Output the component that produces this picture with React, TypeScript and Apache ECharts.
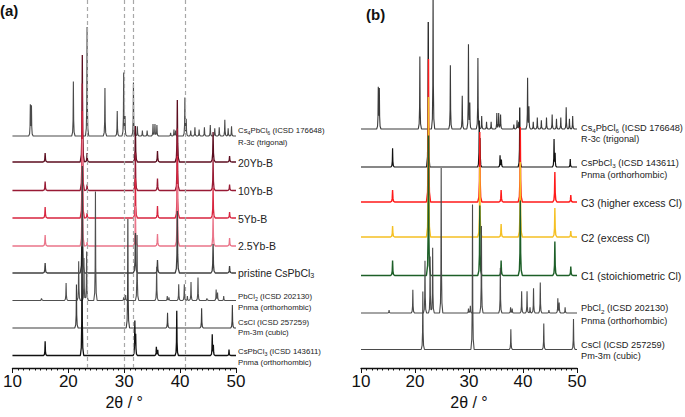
import React, { useEffect, useRef } from "react";
import * as echarts from "echarts";

// ---------- data (2θ in degrees, intensities) ----------
// Reference patterns: [2θ, relative intensity (strongest = 100)]
const cs4PbCl6Peaks: [number, number][] = [
  [13.2, 28], [13.4, 27], [20.9, 50], [23.35, 100], [26.55, 44], [28.75, 23],
  [29.9, 58], [30.15, 17], [31.65, 49], [32.35, 9], [33.25, 5], [34.1, 5],
  [35.15, 11], [35.5, 11], [35.85, 10], [38.3, 3], [38.9, 6], [39.2, 5],
  [40.85, 35], [41.1, 15], [41.9, 5], [42.65, 8], [43.4, 6], [44.35, 8],
  [45.4, 10], [46.2, 7], [47.0, 8], [48.0, 15], [48.6, 7], [49.2, 9],
];
const csPbCl3Peaks: [number, number][] = [
  [15.85, 13], [22.45, 100], [31.9, 31], [32.05, 18], [35.75, 8], [36.0, 5],
  [39.4, 41], [45.75, 19], [45.95, 9], [48.75, 5.5],
];
const pbCl2Peaks: [number, number][] = [
  [15.2, 2], [19.6, 16], [21.85, 36], [22.8, 39], [23.27, 45], [24.85, 100],
  [29.9, 3], [30.25, 5], [32.3, 60], [35.8, 31], [37.7, 4], [38.0, 3],
  [39.75, 15], [40.75, 15], [41.3, 4], [41.95, 17], [43.2, 21], [44.8, 2],
  [46.45, 10], [46.7, 7], [47.8, 4],
];
const csClPeaks: [number, number][] = [
  [21.45, 40], [30.65, 100], [37.75, 14], [43.85, 18], [49.35, 21],
];

// Measured samples: common reflection positions and per-sample heights
const samplePositions = [15.85, 22.5, 23.35, 32.0, 35.95, 39.5, 45.9, 48.85];
const yb20 = [9, 107, 9, 36, 11, 62, 30, 6];
const yb10 = [9, 107, 6, 38, 12, 62, 31, 6];
const yb5 = [11, 107, 5, 40, 12, 62, 30, 6];
const yb2_5 = [11, 107, 4, 40, 12, 62, 31, 8];
const pristine = [10, 107, 0, 40, 13, 62, 29, 7];
const c3 = [12, 143, 0, 70, 12, 75, 30, 7];
const c2 = [11, 140, 0, 70, 13, 75, 29, 6];
const c1 = [15, 140, 0, 70, 15, 75, 34, 9];

// vertical offsets of the stacked patterns
const offsetsA = [232, 206, 177.5, 150, 122, 95, 67.5, 40, 12.5];
const offsetsB = [239, 201, 166, 131, 92.5, 55, 18.5];
const scaleA = 1.09;
const scaleB = 1.45;

// dashed guide lines in panel (a)
const guideLines = [23.4, 30.05, 31.7, 40.9];

const xTicks = { min: 10, max: 50, interval: 10 };

// ---------- helpers ----------
const PROFILE_X = [-1, -0.45, -0.18, 0, 0.18, 0.45, 1];
const PROFILE_Y = [0, 0.07, 0.3, 1, 0.3, 0.07, 0];

function profileAt(d: number) {
  for (let i = 0; i < PROFILE_X.length - 1; i++) {
    if (d >= PROFILE_X[i] && d <= PROFILE_X[i + 1]) {
      const t = (d - PROFILE_X[i]) / (PROFILE_X[i + 1] - PROFILE_X[i]);
      return PROFILE_Y[i] + t * (PROFILE_Y[i + 1] - PROFILE_Y[i]);
    }
  }
  return 0;
}

function trace(peaks: [number, number][], scale: number, offset: number, hw: number) {
  const xs = new Set<number>([10, 50]);
  peaks.forEach(([p]) =>
    PROFILE_X.forEach((f) => {
      const x = +(p + f * hw).toFixed(4);
      if (x >= 10 && x <= 50) xs.add(x);
    })
  );
  const sorted = [...xs].sort((a, b) => a - b);
  return sorted.map((x) => {
    let y = 0;
    peaks.forEach(([p, h]) => {
      const d = (x - p) / hw;
      if (Math.abs(d) < 1) y += h * scale * profileAt(d);
    });
    return [x, offset + y];
  });
}

const sample = (heights: number[]) =>
  samplePositions.map((p, i) => [p, heights[i]] as [number, number]);

const FONT = "'Liberation Sans', Arial, Helvetica, sans-serif";

function label(x: number, y: number, text: string, size: number) {
  return {
    type: "text",
    x,
    y,
    silent: true,
    style: {
      text,
      fill: "#222",
      fontSize: size,
      fontFamily: FONT,
      verticalAlign: "middle",
      align: "left",
      lineHeight: size * 1.4,
      rich: {
        s: {
          fontSize: size * 0.68,
          fontFamily: FONT,
          fill: "#222",
          verticalAlign: "bottom",
          lineHeight: size * 0.7,
        },
      },
    },
  };
}

export default function App() {
  const ref = useRef<HTMLDivElement>(null);
  useEffect(() => {
    if (!ref.current) return;
    const chart = echarts.init(ref.current, null, { renderer: "svg" });

    const xAxisBase = (gridIndex: number) => ({
      gridIndex,
      type: "value",
      ...xTicks,
      axisLine: { lineStyle: { color: "#111", width: 1.3 } },
      axisTick: { length: 5, lineStyle: { color: "#111", width: 1 } },
      minorTick: { show: true, splitNumber: 10, length: 2.5, lineStyle: { color: "#111", width: 1 } },
      splitLine: { show: false },
      axisLabel: { fontSize: 17, color: "#111", margin: 5, fontFamily: FONT },
      name: "2θ / °",
      nameLocation: "middle",
      nameGap: 26,
      nameTextStyle: { fontSize: 16, color: "#111", fontFamily: FONT },
    });
    const yAxisBase = (gridIndex: number) => ({
      gridIndex, type: "value", min: 0, max: 368, show: false,
    });

    const line = (grid: number, data: number[][], color: string, width = 1.1, extra: any = {}) => ({
      type: "line",
      xAxisIndex: grid,
      yAxisIndex: grid,
      data,
      symbol: "none",
      showSymbol: false,
      silent: true,
      clip: true,
      lineStyle: { color, width },
      ...extra,
    });

    const series: any[] = [
      // panel (a)
      line(0, trace(cs4PbCl6Peaks, scaleA, offsetsA[0], 0.3), "#4a4a4a", 1.1, {
        markLine: {
          silent: true,
          symbol: ["none", "none"],
          label: { show: false },
          lineStyle: { color: "#a8a8a8", type: [4, 3], width: 1.2 },
          data: guideLines.map((v) => ({ xAxis: v })),
        },
      }),
      line(0, trace(sample(yb20), 1, offsetsA[1], 0.38), "#5c0d1f", 1.3),
      line(0, trace(sample(yb10), 1, offsetsA[2], 0.38), "#981a34", 1.3),
      line(0, trace(sample(yb5), 1, offsetsA[3], 0.38), "#d8253f", 1.3),
      line(0, trace(sample(yb2_5), 1, offsetsA[4], 0.38), "#ea7489", 1.3),
      line(0, trace(sample(pristine), 1, offsetsA[5], 0.38), "#404040", 1.3),
      line(0, trace(pbCl2Peaks, scaleA, offsetsA[6], 0.3), "#505050"),
      line(0, trace(csClPeaks, scaleA, offsetsA[7], 0.3), "#3c3c3c"),
      line(0, trace(csPbCl3Peaks, scaleA, offsetsA[8], 0.3), "#111111", 1.3),
      // panel (b)
      line(1, trace(cs4PbCl6Peaks, scaleB, offsetsB[0], 0.3), "#3a3a3a"),
      line(1, trace(csPbCl3Peaks, scaleB, offsetsB[1], 0.3), "#111111", 1.2),
      line(1, trace(sample(c3), 1, offsetsB[2], 0.38), "#ff1a1a", 1.4),
      line(1, trace(sample(c2), 1, offsetsB[3], 0.38), "#f5c023", 1.4),
      line(1, trace(sample(c1), 1, offsetsB[4], 0.38), "#1d5f28", 1.4),
      line(1, trace(pbCl2Peaks, scaleB, offsetsB[5], 0.3), "#4a4a4a"),
      line(1, trace(csClPeaks, scaleB, offsetsB[6], 0.3), "#4a4a4a"),
    ];

    const la = 238;
    const lb = 581;
    const graphic: any[] = [
      {
        type: "text", x: 0, y: 3, silent: true,
        style: { text: "(a)", fontSize: 15, fontWeight: "bold", fontFamily: FONT, fill: "#111" },
      },
      {
        type: "text", x: 366, y: 7, silent: true,
        style: { text: "(b)", fontSize: 15, fontWeight: "bold", fontFamily: FONT, fill: "#111" },
      },
      label(la, 130, "Cs{s|4}PbCl{s|6} (ICSD 176648)", 7.8),
      label(la, 142, "R-3c (trigonal)", 7.8),
      label(la, 163, "20Yb-B", 10.5),
      label(la, 191, "10Yb-B", 10.5),
      label(la, 218.5, "5Yb-B", 10.5),
      label(la, 246, "2.5Yb-B", 10.5),
      label(la, 272.5, "pristine CsPbCl{s|3}", 10.5),
      label(la, 296, "PbCl{s|2} (ICSD 202130)", 7.8),
      label(la, 307, "Pnma (orthorhombic)", 7.8),
      label(la, 322.5, "CsCl (ICSD 257259)", 7.8),
      label(la, 332.5, "Pm-3m (cubic)", 7.8),
      label(la, 351, "CsPbCl{s|3} (ICSD 143611)", 7.8),
      label(la, 362, "Pnma (orthorhombic)", 7.8),

      label(lb, 127.5, "Cs{s|4}PbCl{s|6} (ICSD 176648)", 9.2),
      label(lb, 139, "R-3c (trigonal)", 9.2),
      label(lb, 162.5, "CsPbCl{s|3} (ICSD 143611)", 9.2),
      label(lb, 175, "Pnma (orthorhombic)", 9.2),
      label(lb, 203, "C3 (higher excess Cl)", 10.5),
      label(lb, 238, "C2 (excess Cl)", 10.5),
      label(lb, 276, "C1 (stoichiometric Cl)", 10.5),
      label(lb, 308, "PbCl{s|2} (ICSD 202130)", 9.2),
      label(lb, 320.5, "Pnma (orthorhombic)", 9.2),
      label(lb, 344.5, "CsCl (ICSD 257259)", 9.2),
      label(lb, 356, "Pm-3m (cubic)", 9.2),
    ];

    chart.setOption({
      animation: false,
      backgroundColor: "#ffffff",
      textStyle: { fontFamily: FONT },
      grid: [
        { left: 10, width: 226, top: 0, height: 368, containLabel: false },
        { left: 361, width: 216, top: 0, height: 368, containLabel: false },
      ],
      xAxis: [xAxisBase(0), xAxisBase(1)],
      yAxis: [yAxisBase(0), yAxisBase(1)],
      series,
      graphic,
    } as any);

    return () => chart.dispose();
  }, []);

  return (
    <div
      ref={ref}
      style={{ position: "fixed", left: 0, top: 0, width: 685, height: 417, background: "#fff" }}
    />
  );
}
